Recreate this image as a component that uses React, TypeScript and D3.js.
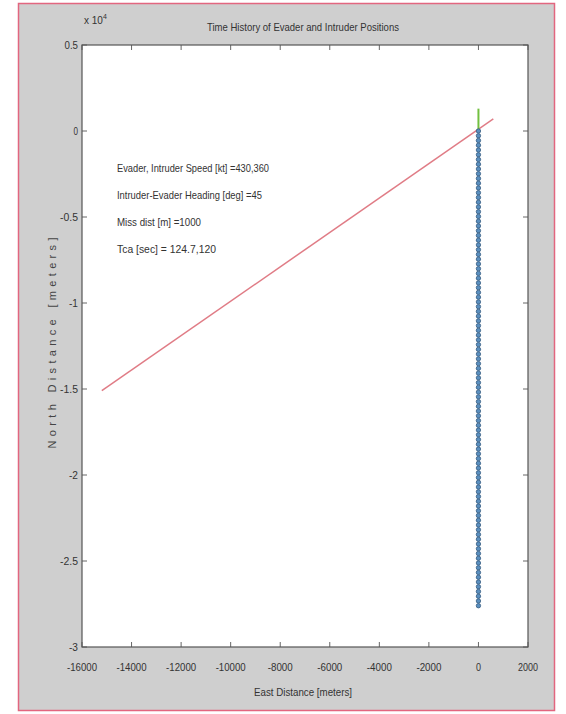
import React, { useEffect, useRef } from "react";
import * as d3 from "d3";

// axis ticks
const xTicks = [-16000, -14000, -12000, -10000, -8000, -6000, -4000, -2000, 0, 2000];
const yTicks = [5000, 0, -5000, -10000, -15000, -20000, -25000, -30000];
const yTickLabels = ["0.5", "0", "-0.5", "-1", "-1.5", "-2", "-2.5", "-3"];

// intruder straight track (east, north in meters)
const intruderX = [-15200, 600];
const intruderY = [-15100, 700];

// evader samples, flying north along x = 0
const evaderY = [
  0, -276, -552, -828, -1104, -1380, -1656, -1932, -2208, -2484,
  -2760, -3036, -3312, -3588, -3864, -4140, -4416, -4692, -4968, -5244,
  -5520, -5796, -6072, -6348, -6624, -6900, -7176, -7452, -7728, -8004,
  -8280, -8556, -8832, -9108, -9384, -9660, -9936, -10212, -10488, -10764,
  -11040, -11316, -11592, -11868, -12144, -12420, -12696, -12972, -13248, -13524,
  -13800, -14076, -14352, -14628, -14904, -15180, -15456, -15732, -16008, -16284,
  -16560, -16836, -17112, -17388, -17664, -17940, -18216, -18492, -18768, -19044,
  -19320, -19596, -19872, -20148, -20424, -20700, -20976, -21252, -21528, -21804,
  -22080, -22356, -22632, -22908, -23184, -23460, -23736, -24012, -24288, -24564,
  -24840, -25116, -25392, -25668, -25944, -26220, -26496, -26772, -27048, -27324,
  -27600,
];
// short green segment after closest approach
const evaderTailY = [0, 1300];

const notes = [
  "Evader, Intruder Speed [kt] =430,360",
  "Intruder-Evader Heading [deg] =45",
  "Miss dist [m] =1000",
  "Tca [sec] = 124.7,120",
];
const noteWidths = [152, 145, 84, 99];

export default function App() {
  const svgRef = useRef<SVGSVGElement>(null);

  useEffect(() => {
    const width = 566, height = 714;
    const plot = { left: 82, right: 528, top: 45, bottom: 647 };
    const svg = d3.select(svgRef.current);
    svg.selectAll("*").remove();
    const font = "Liberation Sans, Arial, sans-serif";

    svg.append("rect").attr("width", width).attr("height", height).attr("fill", "#fff");
    svg.append("rect")
      .attr("x", 18.5).attr("y", 3.5)
      .attr("width", 536).attr("height", 707)
      .attr("fill", "#cfcfcf")
      .attr("stroke", "#e2667f")
      .attr("stroke-width", 1.5);

    const x = d3.scaleLinear().domain([-16000, 2000]).range([plot.left, plot.right]);
    const y = d3.scaleLinear().domain([-30000, 5000]).range([plot.bottom, plot.top]);

    svg.append("rect")
      .attr("x", plot.left).attr("y", plot.top)
      .attr("width", plot.right - plot.left).attr("height", plot.bottom - plot.top)
      .attr("fill", "#fff");

    const g = svg.append("g").attr("fill", "none").attr("stroke", "#666").attr("stroke-width", 1);
    const tl = 5;
    xTicks.forEach(t => {
      g.append("line").attr("x1", x(t)).attr("x2", x(t)).attr("y1", plot.bottom).attr("y2", plot.bottom - tl);
      g.append("line").attr("x1", x(t)).attr("x2", x(t)).attr("y1", plot.top).attr("y2", plot.top + tl);
    });
    yTicks.forEach(t => {
      g.append("line").attr("x1", plot.left).attr("x2", plot.left + tl).attr("y1", y(t)).attr("y2", y(t));
      g.append("line").attr("x1", plot.right).attr("x2", plot.right - tl).attr("y1", y(t)).attr("y2", y(t));
    });

    // intruder track
    const line = d3.line<number>().x((d, i) => x(intruderX[i])).y(d => y(d));
    svg.append("path")
      .attr("d", line(intruderY))
      .attr("fill", "none")
      .attr("stroke", "#e07c86")
      .attr("stroke-width", 1.5);

    // evader tail
    svg.append("path")
      .attr("d", d3.line<number>().x(() => x(0)).y(d => y(d))(evaderTailY))
      .attr("fill", "none")
      .attr("stroke", "#72c040")
      .attr("stroke-width", 2);

    // evader markers
    svg.selectAll(".ev")
      .data(evaderY)
      .join("circle")
      .attr("class", "ev")
      .attr("cx", x(0))
      .attr("cy", d => y(d))
      .attr("r", 2.2)
      .attr("fill", "#5a8fbf")
      .attr("stroke", "#345b80")
      .attr("stroke-width", 0.8);

    svg.append("rect")
      .attr("x", plot.left).attr("y", plot.top)
      .attr("width", plot.right - plot.left).attr("height", plot.bottom - plot.top)
      .attr("fill", "none").attr("stroke", "#555").attr("stroke-width", 1.2);

    // tick labels
    xTicks.forEach(t => {
      const s = String(t);
      svg.append("text")
        .attr("x", x(t)).attr("y", plot.bottom + 24)
        .attr("text-anchor", "middle")
        .attr("font-family", font).attr("font-size", 11).attr("fill", "#333")
        .attr("textLength", s.length * 5).attr("lengthAdjust", "spacingAndGlyphs")
        .text(s);
    });
    yTicks.forEach((t, i) => {
      const s = yTickLabels[i];
      svg.append("text")
        .attr("x", plot.left - 4).attr("y", y(t) + 4)
        .attr("text-anchor", "end")
        .attr("font-family", font).attr("font-size", 11).attr("fill", "#333")
        .attr("textLength", s.length * 4.5).attr("lengthAdjust", "spacingAndGlyphs")
        .text(s);
    });

    // exponent
    const ex = svg.append("text").attr("x", 84).attr("y", 24)
      .attr("font-family", font).attr("font-size", 10).attr("fill", "#333");
    ex.append("tspan").text("x 10");
    ex.append("tspan").attr("dy", -5).attr("font-size", 7).text("4");

    // title
    svg.append("text")
      .attr("x", 303).attr("y", 31)
      .attr("text-anchor", "middle")
      .attr("font-family", font).attr("font-size", 11).attr("fill", "#333")
      .attr("textLength", 192).attr("lengthAdjust", "spacingAndGlyphs")
      .text("Time History of Evader and Intruder Positions");

    // axis labels
    svg.append("text")
      .attr("x", 303).attr("y", 696)
      .attr("text-anchor", "middle")
      .attr("font-family", font).attr("font-size", 11).attr("fill", "#333")
      .attr("textLength", 98).attr("lengthAdjust", "spacingAndGlyphs")
      .text("East Distance [meters]");
    svg.append("text")
      .attr("transform", "translate(56,343) rotate(-90)")
      .attr("text-anchor", "middle")
      .attr("font-family", font).attr("font-size", 11).attr("fill", "#444")
      .attr("textLength", 211).attr("lengthAdjust", "spacing")
      .text("North Distance [meters]");

    // annotations
    notes.forEach((n, i) => {
      svg.append("text")
        .attr("x", 117).attr("y", 172 + i * 27)
        .attr("font-family", font).attr("font-size", 11).attr("fill", "#333")
        .attr("textLength", noteWidths[i]).attr("lengthAdjust", "spacingAndGlyphs")
        .text(n);
    });
  }, []);

  return (
    <svg
      ref={svgRef}
      width={566}
      height={714}
      style={{ position: "absolute", left: 0, top: 0 }}
    />
  );
}
